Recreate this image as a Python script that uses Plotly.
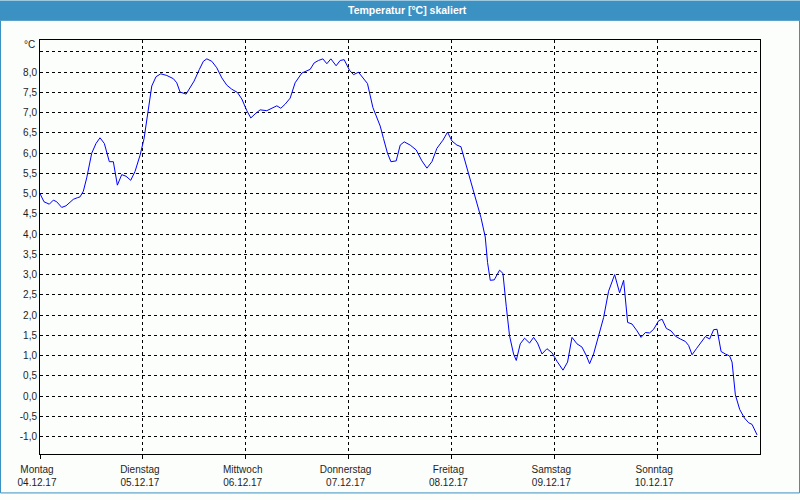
import plotly.graph_objects as go

# hours since Monday 04.12.17 00:00
hours = [0, 0.93, 2.17, 3.11, 3.9, 5.07, 6.07, 7.77, 8.71, 9.34, 10.11, 10.9, 12.07, 13.07, 14.0,
         15.01, 16.18, 17.11, 18.05, 19.07, 20.08, 21.17, 22.18, 23.35, 24.28, 25.05, 26.08,
         27.08, 28.18, 29.58, 31.12, 31.91, 32.68, 34.09, 35.02, 35.95, 37.19, 38.12, 38.92,
         40.09, 41.25, 42.42, 43.59, 44.75, 46.06, 47.09, 48.26, 49.19, 50.19, 51.36, 52.93,
         54.09, 55.26, 56.19, 57.2, 58.37, 59.53, 61.1, 63.03, 63.97, 64.97, 66.0, 66.93,
         67.87, 69.1, 70.04, 70.97, 72.21, 73.15, 74.31, 75.34, 76.41, 77.67, 78.75, 79.38,
         80.15, 81.08, 81.88, 83.11, 84.05, 84.98, 86.38, 87.78, 89.11, 90.28, 91.45, 92.61,
         94.01, 95.09, 96.12, 97.28, 98.22, 99.22, 100.39, 101.56, 102.89, 103.89, 104.43,
         105.06, 105.99, 107.23, 108.02, 108.79, 109.56, 110.5, 111.13, 112.06, 113.07,
         114.23, 115.17, 116.1, 117.13, 118.29, 119.46, 120.63, 122.03, 123.1, 124.13, 125.3,
         126.46, 127.47, 128.24, 129.17, 130.34, 131.51, 132.67, 134.08, 135.24, 136.18,
         137.11, 138.14, 139.31, 140.24, 141.25, 142.25, 143.19, 144.35, 145.15, 146.15,
         147.25, 148.25, 149.41, 150.58, 151.35, 152.15, 153.15, 154.08, 155.25, 156.25,
         157.19, 157.98, 158.92, 159.92, 160.92, 161.48, 162.25, 163.26, 164.35, 165.36,
         166.15, 167.32]

temps = [5.0, 4.8, 4.74, 4.84, 4.8, 4.66, 4.7, 4.86, 4.9, 4.92, 5.06, 5.39, 6.0, 6.24, 6.38,
         6.24, 5.79, 5.79, 5.21, 5.47, 5.43, 5.33, 5.55, 5.95, 6.36, 6.93, 7.66,
         7.89, 7.96, 7.92, 7.84, 7.74, 7.51, 7.46, 7.62, 7.78, 8.07, 8.27, 8.33,
         8.27, 8.11, 7.86, 7.68, 7.58, 7.5, 7.34, 7.05, 6.87, 6.97, 7.07, 7.05,
         7.11, 7.17, 7.11, 7.21, 7.36, 7.74, 7.98, 8.07, 8.23, 8.29, 8.33, 8.21,
         8.33, 8.16, 8.29, 8.31, 8.05, 7.94, 8.0, 7.86, 7.72, 7.13, 6.85, 6.67,
         6.36, 6.0, 5.79, 5.81, 6.2, 6.28, 6.2, 6.08, 5.81, 5.63, 5.79, 6.12,
         6.32, 6.52, 6.3, 6.2, 6.16, 5.79, 5.39, 4.9, 4.41, 3.93, 3.3,
         2.86, 2.87, 3.11, 3.03, 2.22, 1.49, 1.04, 0.88, 1.29, 1.43,
         1.31, 1.45, 1.31, 1.04, 1.17, 1.07, 0.86, 0.64, 0.84, 1.45, 1.29,
         1.21, 1.0, 0.8, 1.04, 1.49, 1.94, 2.59, 3.0, 2.55, 2.86,
         1.82, 1.78, 1.61, 1.45, 1.57, 1.56, 1.65, 1.86, 1.9, 1.67,
         1.61, 1.48, 1.41, 1.35, 1.25, 1.02, 1.17, 1.31, 1.47, 1.41,
         1.64, 1.65, 1.1, 1.04, 0.99, 0.84, 0.03, -0.33, -0.54, -0.66,
         -0.7, -0.96]

day_names = ["Montag", "Dienstag", "Mittwoch", "Donnerstag", "Freitag", "Samstag", "Sonntag"]
day_dates = ["04.12.17", "05.12.17", "06.12.17", "07.12.17", "08.12.17", "09.12.17", "10.12.17"]
day_hours = [0, 24, 48, 72, 96, 120, 144]

y_ticks = [-1.0, -0.5, 0.0, 0.5, 1.0, 1.5, 2.0, 2.5, 3.0, 3.5, 4.0, 4.5, 5.0, 5.5, 6.0, 6.5,
           7.0, 7.5, 8.0, 8.5]
y_labels = [("%.1f" % v).replace(".", ",") if v <= 8.0 else "" for v in y_ticks]

title_text = "Temperatur [°C] skaliert"
unit_text = "°C"

FONT = "Liberation Sans"
BAR = "#3c91c3"
TXT = "#1e1e1e"

fig = go.Figure()
fig.add_trace(go.Scatter(x=hours, y=temps, mode="lines",
                         line=dict(color="#0000ff", width=1), hoverinfo="skip",
                         showlegend=False))

W, H = 800, 500
L, R, T, B = 40, 40, 40, 40
pw, ph = W - L - R, H - T - B


def px2x(p):
    return (p - L) / pw


def px2y(q):
    return (H - B - q) / ph


fig.update_layout(
    width=W, height=H,
    margin=dict(l=L, r=R, t=T, b=B),
    paper_bgcolor="#fcfefc",
    plot_bgcolor="#fcfefc",
    font=dict(family=FONT, size=10, color=TXT),
    showlegend=False,
    xaxis=dict(
        range=[0, 168],
        tickvals=day_hours,
        ticktext=[f"{n}<br>{d}" for n, d in zip(day_names, day_dates)],
        showgrid=True, gridcolor="#000000", gridwidth=1, griddash="3px,3px",
        showline=True, linecolor="#000000", linewidth=1, mirror=True,
        ticks="outside", ticklen=4, tickcolor="#000000", tickwidth=1,
        zeroline=False, ticklabelshift=-3, ticklabelstandoff=2,
        tickfont=dict(family=FONT, size=10, color=TXT),
    ),
    yaxis=dict(
        range=[-1.431, 8.796],
        tickvals=y_ticks,
        ticktext=y_labels,
        showgrid=True, gridcolor="#000000", gridwidth=1, griddash="3px,3px",
        showline=True, linecolor="#000000", linewidth=1, mirror=True,
        ticks="", zeroline=False,
        tickfont=dict(family=FONT, size=10, color=TXT),
    ),
    shapes=[
        dict(type="rect", xref="paper", yref="paper",
             x0=px2x(0), x1=px2x(800), y0=px2y(20), y1=px2y(0),
             fillcolor=BAR, line=dict(width=0), layer="above"),
        dict(type="rect", xref="paper", yref="paper",
             x0=px2x(0.5), x1=px2x(799.5), y0=px2y(499.5), y1=px2y(20),
             fillcolor="rgba(0,0,0,0)", line=dict(color=BAR, width=1), layer="above"),
    ],
    annotations=[
        dict(text=f"<b>{title_text}</b>", xref="paper", yref="paper",
             x=px2x(407), y=px2y(10), xanchor="center", yanchor="middle",
             showarrow=False, font=dict(family=FONT, size=10.5, color="#ffffff")),
        dict(text=unit_text, xref="paper", yref="paper",
             x=px2x(37), y=px2y(45), xanchor="right", yanchor="middle",
             showarrow=False, font=dict(family=FONT, size=10, color=TXT)),
    ],
)

fig.write_html("out.html")
